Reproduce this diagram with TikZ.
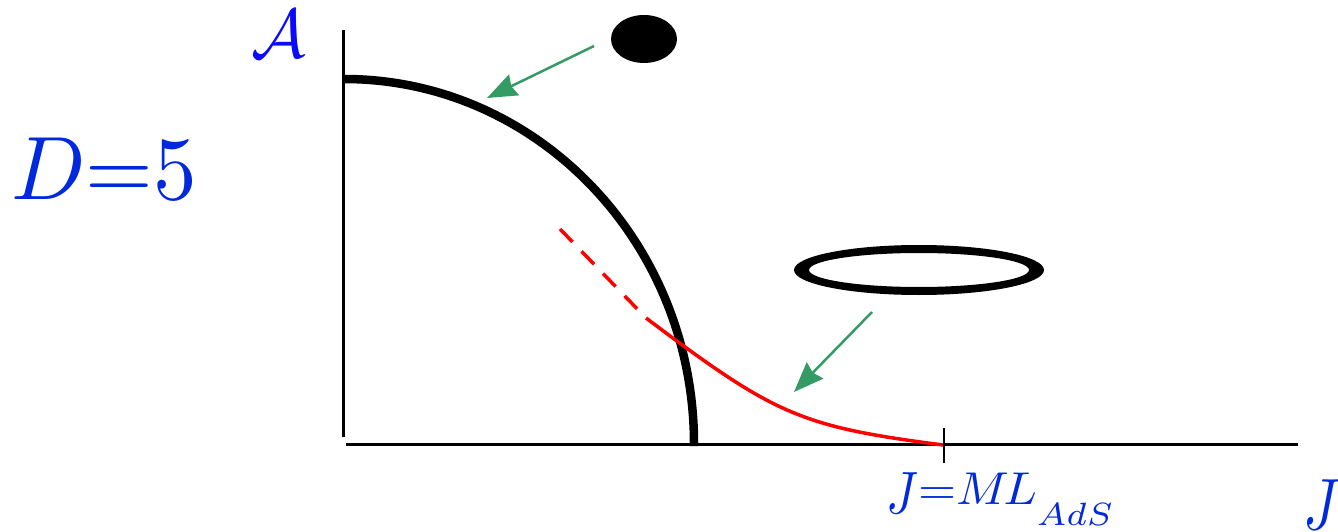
\RequirePackage{fix-cm}
\documentclass[tikz,border=0pt]{standalone}
\usetikzlibrary{arrows.meta}
\definecolor{lblue}{RGB}{0,40,220}
\definecolor{ablue}{RGB}{10,10,255}
\definecolor{agreen}{RGB}{52,155,100}
\definecolor{cred}{RGB}{255,0,0}
\newcommand{\tallJ}{\raisebox{-2pt}{\scalebox{1}[1.3]{$J$}}}
\begin{document}
\begin{tikzpicture}[x=1pt,y=1pt,
  axis/.style={line width=3pt},
  garrow/.style={agreen,line width=2.5pt,-{Stealth[length=30pt,width=23pt,inset=3pt]}},
  redline/.style={cred,line width=3.5pt},
  lab/.style={lblue,inner sep=0pt,anchor=base west}]
\useasboundingbox (0,0) rectangle (1338,531);
% axes
\draw[axis] (343,94) -- (343,501);
\draw[axis] (346,87) -- (1298,87);
\draw[line width=2.5pt] (944,68) -- (944,103);
% thick arc
\draw[line width=8.5pt] (344,452) arc[start angle=90,end angle=0,x radius=350,y radius=365] -- ++(0,-2);
% red curve
\draw[redline, dash pattern=on 18pt off 13pt] (560,302) -- (646,213);
\draw[redline] (646,213) .. controls (775,116) and (800,104.5) .. (943,86);
% black hole and black ring
\fill (644,492) ellipse[x radius=33,y radius=24];
\fill[even odd rule] (919,261) ellipse[x radius=125,y radius=25] (919,261) ellipse[x radius=110,y radius=17];
% arrows
\coordinate (a1s) at (594,485);
\coordinate (a1e) at (487,433);
\coordinate (a2s) at (872,219);
\coordinate (a2e) at (794,139);
\draw[garrow] (a1s) -- (a1e);
\draw[garrow] (a2s) -- (a2e);
% labels
\node[lab,ablue] (lA) at (251,473) {\scalebox{6.8}[6.9]{$\mathcal{A}$}};
\node[lab] (lD) at (11,331) {\scalebox{8.7}[9.0]{$D{=}5$}};
\node[lab] (lJM) at (886,27) {\scalebox{4.9}[4.6]{\tallJ${=}M\mkern-2mu L$\raisebox{-4.6pt}{$\scriptstyle AdS$}}};
\node[lab] (lJ) at (1303,12.5) {\scalebox{5.6}{\tallJ}};
\end{tikzpicture}
\end{document}
